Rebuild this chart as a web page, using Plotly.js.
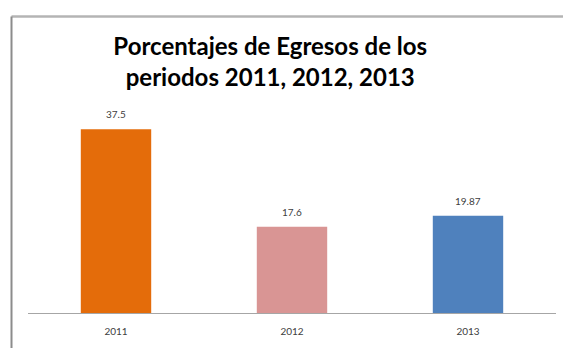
<!DOCTYPE html>
<html>
<head>
<meta charset="utf-8">
<script src="https://cdn.plot.ly/plotly-3.0.1.min.js"></script>
<style>html,body{margin:0;padding:0;background:#fff;overflow:hidden;}#chart{width:563px;height:348px;overflow:hidden;}</style>
</head>
<body>
<div id="chart"></div>
<script>
var categories = ["2011", "2012", "2013"];
var values = [37.5, 17.6, 19.87];
var valueLabels = ["37.5", "17.6", "19.87"];
var barColors = ["#E46C0A", "#D99594", "#4F81BD"];

var trace = {
  type: "bar",
  x: categories,
  y: values,
  width: 0.4,
  marker: {color: barColors},
  hoverinfo: "none"
};

var annotations = categories.map(function(c, i) {
  return {
    x: i, y: values[i], text: valueLabels[i],
    xref: "x", yref: "y", showarrow: false,
    yanchor: "bottom", yshift: 7,
    font: {family: "Lato, 'Liberation Sans', sans-serif", size: 10, color: "#404040"}
  };
});

var leftPx = 11.5, topPx = 16.5, plotL = 28, plotW = 528, plotBottom = 313, plotH = 196;
var xl = (leftPx - plotL) / plotW;
var xr = (563 - plotL) / plotW;
var yt = (plotBottom - topPx) / plotH;
var yb = (plotBottom - 348) / plotH;

var layout = {
  width: 563, height: 348,
  margin: {l: 28, r: 7, t: 117, b: 35},
  paper_bgcolor: "#ffffff",
  plot_bgcolor: "#ffffff",
  showlegend: false,
  title: {
    text: "Porcentajes de Egresos de los<br>periodos 2011, 2012, 2013",
    font: {family: "Lato, 'Liberation Sans', sans-serif", size: 24, color: "#000000", weight: "bold"},
    x: 0.48, xref: "container", xanchor: "center",
    y: 0.842, yref: "container", yanchor: "middle"
  },
  xaxis: {
    type: "category",
    range: [-0.5, 2.5],
    showline: true, linecolor: "#A6A6A6", linewidth: 1,
    ticks: "outside", ticklen: 9, tickcolor: "rgba(0,0,0,0)",
    tickfont: {family: "Lato, 'Liberation Sans', sans-serif", size: 10, color: "#404040"},
    showgrid: false, zeroline: false, fixedrange: true
  },
  yaxis: {
    range: [0, 40], visible: false, showgrid: false, zeroline: false, fixedrange: true
  },
  annotations: annotations,
  shapes: [
    {type: "line", xref: "paper", yref: "paper", x0: xl, x1: xr, y0: yt, y1: yt,
     line: {color: "#B4B4B4", width: 2.5}, layer: "below"},
    {type: "line", xref: "paper", yref: "paper", x0: xl, x1: xl, y0: yt, y1: yb,
     line: {color: "#8C8C8C", width: 2}, layer: "below"}
  ]
};

Plotly.newPlot("chart", [trace], layout, {displayModeBar: false, staticPlot: true});
</script>
</body>
</html>
